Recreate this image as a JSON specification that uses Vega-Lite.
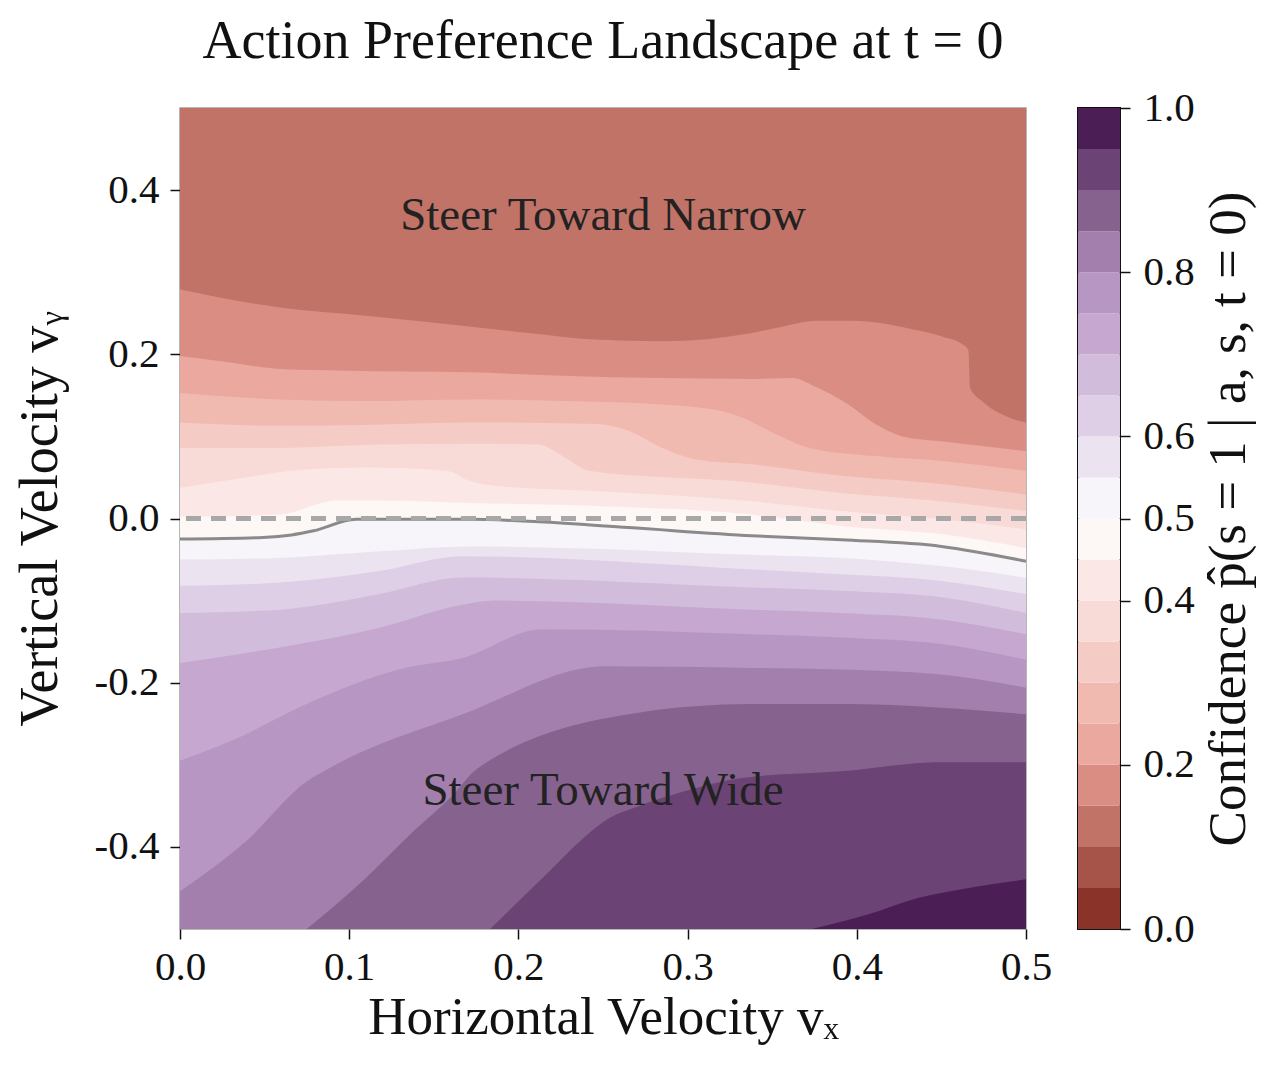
{
  "$schema": "https://vega.github.io/schema/vega-lite/v6.json",
  "background": "white",
  "padding": {"left": 12, "top": 14, "right": 10, "bottom": 10},
  "bounds": "flush",
  "spacing": 52,
  "config": {
    "font": "Liberation Serif",
    "view": {"stroke": "#a0a0a0", "strokeWidth": 1.5},
    "axis": {"labelFont": "Liberation Serif", "titleFont": "Liberation Serif", "labelFontSize": 41, "titleFontSize": 53, "labelColor": "#111", "titleColor": "#111", "tickColor": "#111", "tickSize": 10, "tickWidth": 1.5, "domain": false, "grid": false, "titleFontWeight": "normal", "labelFlush": false, "labelOverlap": false}
  },
  "resolve": {"scale": {"color": "independent"}},
  "hconcat": [
    {
      "width": 846,
      "height": 821,
      "title": {"text": "Action Preference Landscape at t = 0", "fontSize": 54, "font": "Liberation Serif", "fontWeight": "normal", "color": "#111", "anchor": "middle", "offset": -4, "baseline": "alphabetic"},
      "data": {"values": [
        {"level":0.1,"x":0,"y":0.5},{"level":0.1,"x":0.5,"y":0.5},
        {"level":0.15,"x":0,"y":0.279},{"level":0.15,"x":0.059,"y":0.257},{"level":0.15,"x":0.11,"y":0.247},{"level":0.15,"x":0.171,"y":0.234},{"level":0.15,"x":0.206,"y":0.226},{"level":0.15,"x":0.245,"y":0.218},{"level":0.15,"x":0.285,"y":0.216},{"level":0.15,"x":0.338,"y":0.226},{"level":0.15,"x":0.352,"y":0.232},{"level":0.15,"x":0.377,"y":0.241},{"level":0.15,"x":0.397,"y":0.241},{"level":0.15,"x":0.4385,"y":0.228},{"level":0.15,"x":0.45,"y":0.222},{"level":0.15,"x":0.464,"y":0.21},{"level":0.15,"x":0.466,"y":0.204},{"level":0.15,"x":0.467,"y":0.159},{"level":0.15,"x":0.474,"y":0.143},{"level":0.15,"x":0.49,"y":0.123},{"level":0.15,"x":0.5,"y":0.117},
        {"level":0.2,"x":0,"y":0.198},{"level":0.2,"x":0.03,"y":0.19},{"level":0.2,"x":0.059,"y":0.182},{"level":0.2,"x":0.0985,"y":0.18},{"level":0.2,"x":0.171,"y":0.178},{"level":0.2,"x":0.226,"y":0.174},{"level":0.2,"x":0.285,"y":0.171},{"level":0.2,"x":0.338,"y":0.17},{"level":0.2,"x":0.362,"y":0.171},{"level":0.2,"x":0.375,"y":0.161},{"level":0.2,"x":0.395,"y":0.139},{"level":0.2,"x":0.411,"y":0.115},{"level":0.2,"x":0.427,"y":0.1},{"level":0.2,"x":0.45,"y":0.094},{"level":0.2,"x":0.5,"y":0.082},
        {"level":0.25,"x":0,"y":0.153},{"level":0.25,"x":0.059,"y":0.145},{"level":0.25,"x":0.11,"y":0.143},{"level":0.25,"x":0.171,"y":0.145},{"level":0.25,"x":0.226,"y":0.143},{"level":0.25,"x":0.285,"y":0.139},{"level":0.25,"x":0.32,"y":0.131},{"level":0.25,"x":0.332,"y":0.123},{"level":0.25,"x":0.352,"y":0.103},{"level":0.25,"x":0.372,"y":0.086},{"level":0.25,"x":0.411,"y":0.076},{"level":0.25,"x":0.45,"y":0.07},{"level":0.25,"x":0.5,"y":0.058},
        {"level":0.3,"x":0,"y":0.117},{"level":0.3,"x":0.059,"y":0.113},{"level":0.3,"x":0.11,"y":0.114},{"level":0.3,"x":0.171,"y":0.117},{"level":0.3,"x":0.245,"y":0.115},{"level":0.3,"x":0.265,"y":0.107},{"level":0.3,"x":0.285,"y":0.086},{"level":0.3,"x":0.305,"y":0.072},{"level":0.3,"x":0.338,"y":0.066},{"level":0.3,"x":0.391,"y":0.052},{"level":0.3,"x":0.45,"y":0.042},{"level":0.3,"x":0.5,"y":0.029},
        {"level":0.35,"x":0,"y":0.086},{"level":0.35,"x":0.059,"y":0.086},{"level":0.35,"x":0.118,"y":0.09},{"level":0.35,"x":0.171,"y":0.091},{"level":0.35,"x":0.212,"y":0.09},{"level":0.35,"x":0.226,"y":0.076},{"level":0.35,"x":0.242,"y":0.058},{"level":0.35,"x":0.338,"y":0.044},{"level":0.35,"x":0.391,"y":0.031},{"level":0.35,"x":0.45,"y":0.021},{"level":0.35,"x":0.5,"y":0.009},
        {"level":0.4,"x":0,"y":0.0375},{"level":0.4,"x":0.039,"y":0.05},{"level":0.4,"x":0.065,"y":0.058},{"level":0.4,"x":0.11,"y":0.062},{"level":0.4,"x":0.158,"y":0.058},{"level":0.4,"x":0.171,"y":0.046},{"level":0.4,"x":0.186,"y":0.04},{"level":0.4,"x":0.245,"y":0.0335},{"level":0.4,"x":0.338,"y":0.021},{"level":0.4,"x":0.391,"y":0.009},{"level":0.4,"x":0.45,"y":-0.001},{"level":0.4,"x":0.5,"y":-0.013},
        {"level":0.45,"x":0,"y":0.002},{"level":0.45,"x":0.059,"y":0.005},{"level":0.45,"x":0.0926,"y":0.022},{"level":0.45,"x":0.118,"y":0.022},{"level":0.45,"x":0.171,"y":0.019},{"level":0.45,"x":0.249,"y":0.015},{"level":0.45,"x":0.338,"y":0.005},{"level":0.45,"x":0.391,"y":-0.009},{"level":0.45,"x":0.45,"y":-0.019},{"level":0.45,"x":0.5,"y":-0.036},
        {"level":0.5,"x":0,"y":-0.025},{"level":0.5,"x":0.049,"y":-0.023},{"level":0.5,"x":0.066,"y":-0.02},{"level":0.5,"x":0.079,"y":-0.015},{"level":0.5,"x":0.104,"y":-0.001},{"level":0.5,"x":0.171,"y":-0.001},{"level":0.5,"x":0.212,"y":-0.004},{"level":0.5,"x":0.265,"y":-0.011},{"level":0.5,"x":0.338,"y":-0.021},{"level":0.5,"x":0.391,"y":-0.026},{"level":0.5,"x":0.45,"y":-0.034},{"level":0.5,"x":0.5,"y":-0.052},
        {"level":0.55,"x":0,"y":-0.05},{"level":0.55,"x":0.059,"y":-0.048},{"level":0.55,"x":0.118,"y":-0.04},{"level":0.55,"x":0.171,"y":-0.034},{"level":0.55,"x":0.249,"y":-0.037},{"level":0.55,"x":0.332,"y":-0.044},{"level":0.55,"x":0.391,"y":-0.048},{"level":0.55,"x":0.45,"y":-0.058},{"level":0.55,"x":0.5,"y":-0.072},
        {"level":0.6,"x":0,"y":-0.082},{"level":0.6,"x":0.059,"y":-0.078},{"level":0.6,"x":0.118,"y":-0.064},{"level":0.6,"x":0.167,"y":-0.046},{"level":0.6,"x":0.338,"y":-0.062},{"level":0.6,"x":0.391,"y":-0.068},{"level":0.6,"x":0.45,"y":-0.076},{"level":0.6,"x":0.5,"y":-0.092},
        {"level":0.65,"x":0,"y":-0.115},{"level":0.65,"x":0.059,"y":-0.111},{"level":0.65,"x":0.118,"y":-0.092},{"level":0.65,"x":0.167,"y":-0.072},{"level":0.65,"x":0.338,"y":-0.084},{"level":0.65,"x":0.391,"y":-0.088},{"level":0.65,"x":0.45,"y":-0.096},{"level":0.65,"x":0.5,"y":-0.115},
        {"level":0.7,"x":0,"y":-0.176},{"level":0.7,"x":0.059,"y":-0.157},{"level":0.7,"x":0.118,"y":-0.133},{"level":0.7,"x":0.167,"y":-0.105},{"level":0.7,"x":0.186,"y":-0.1},{"level":0.7,"x":0.338,"y":-0.111},{"level":0.7,"x":0.391,"y":-0.115},{"level":0.7,"x":0.45,"y":-0.123},{"level":0.7,"x":0.5,"y":-0.141},
        {"level":0.75,"x":0,"y":-0.295},{"level":0.75,"x":0.03,"y":-0.271},{"level":0.75,"x":0.079,"y":-0.222},{"level":0.75,"x":0.131,"y":-0.183},{"level":0.75,"x":0.167,"y":-0.17},{"level":0.75,"x":0.214,"y":-0.135},{"level":0.75,"x":0.338,"y":-0.141},{"level":0.75,"x":0.391,"y":-0.145},{"level":0.75,"x":0.45,"y":-0.153},{"level":0.75,"x":0.5,"y":-0.172},
        {"level":0.8,"x":0,"y":-0.454},{"level":0.8,"x":0.039,"y":-0.393},{"level":0.8,"x":0.075,"y":-0.32},{"level":0.8,"x":0.0887,"y":-0.3035},{"level":0.8,"x":0.167,"y":-0.2385},{"level":0.8,"x":0.251,"y":-0.18},{"level":0.8,"x":0.338,"y":-0.182},{"level":0.8,"x":0.391,"y":-0.184},{"level":0.8,"x":0.45,"y":-0.19},{"level":0.8,"x":0.5,"y":-0.206},
        {"level":0.85,"x":0.0749,"y":-0.5},{"level":0.85,"x":0.108,"y":-0.4415},{"level":0.85,"x":0.138,"y":-0.381},{"level":0.85,"x":0.1608,"y":-0.338},{"level":0.85,"x":0.1755,"y":-0.305},{"level":0.85,"x":0.271,"y":-0.2365},{"level":0.85,"x":0.338,"y":-0.226},{"level":0.85,"x":0.391,"y":-0.226},{"level":0.85,"x":0.45,"y":-0.2305},{"level":0.85,"x":0.5,"y":-0.2385},
        {"level":0.9,"x":0.1832,"y":-0.5},{"level":0.9,"x":0.2167,"y":-0.433},{"level":0.9,"x":0.2364,"y":-0.393},{"level":0.9,"x":0.2541,"y":-0.3645},{"level":0.9,"x":0.269,"y":-0.352},{"level":0.9,"x":0.2986,"y":-0.332},{"level":0.9,"x":0.332,"y":-0.316},{"level":0.9,"x":0.391,"y":-0.308},{"level":0.9,"x":0.45,"y":-0.297},{"level":0.9,"x":0.5,"y":-0.297},
        {"level":0.95,"x":0.3735,"y":-0.5},{"level":0.95,"x":0.407,"y":-0.482},{"level":0.95,"x":0.4366,"y":-0.462},{"level":0.95,"x":0.466,"y":-0.45},{"level":0.95,"x":0.5,"y":-0.4395}
      ]},
      "layer": [
        {
          "mark": {"type": "area", "interpolate": "monotone"},
          "encoding": {
            "x": {"field": "x", "type": "quantitative", "scale": {"domain": [0, 0.5], "nice": false, "zero": false},
                  "axis": {"values": [0, 0.1, 0.2, 0.3, 0.4, 0.5], "format": ".1f", "title": "Horizontal Velocity vₓ", "labelPadding": 8, "titlePadding": 4}},
            "y": {"field": "y", "type": "quantitative", "stack": null, "scale": {"domain": [-0.5, 0.5], "nice": false, "zero": false},
                  "axis": {"values": [-0.4, -0.2, 0, 0.2, 0.4], "labelExpr": "datum.value < 0 ? '-' + format(-datum.value, '.1f') : format(datum.value, '.1f')", "title": "Vertical Velocity vᵧ", "titleFontSize": 54, "labelPadding": 11, "titlePadding": 27}},
            "y2": {"datum": -0.5},
            "detail": {"field": "level"},
            "color": {"field": "level", "type": "quantitative",
                      "scale": {"type": "threshold", "domain": [0.05,0.1,0.15,0.2,0.25,0.3,0.35,0.4,0.45,0.5,0.55,0.6,0.65,0.7,0.75,0.8,0.85,0.9,0.95],
                                "range": ["#8a3329","#a6534a","#c27368","#da8d83","#eba89e","#f1bab1","#f5cbc5","#f8dad6","#fbe8e6","#fdf7f6","#f7f5f9","#ebe4f0","#dfcfe6","#d2bcdb","#c5a7cf","#b896c3","#a37fad","#86628f","#6b4374","#4b1f55"]},
                      "legend": null}
          }
        },
        {
          "transform": [{"filter": "datum.level == 0.5"}],
          "mark": {"type": "line", "color": "#8a8a8a", "strokeWidth": 3, "interpolate": "monotone"},
          "encoding": {
            "x": {"field": "x", "type": "quantitative"},
            "y": {"field": "y", "type": "quantitative"}
          }
        },
        {
          "mark": {"type": "rule", "color": "#a8a8a8", "strokeWidth": 3.5, "strokeDash": [15, 10], "opacity": 0.85},
          "encoding": {"y": {"datum": 0}}
        },
        {
          "data": {"values": [
            {"label": "Steer Toward Narrow", "x": 0.25, "y": 0.368},
            {"label": "Steer Toward Wide", "x": 0.25, "y": -0.332}
          ]},
          "mark": {"type": "text", "font": "Liberation Serif", "fontSize": 47, "color": "#222222", "baseline": "middle", "align": "center"},
          "encoding": {
            "x": {"field": "x", "type": "quantitative"},
            "y": {"field": "y", "type": "quantitative"},
            "text": {"field": "label"}
          }
        }
      ]
    },
    {
      "width": 42,
      "height": 821,
      "view": {"stroke": "#111", "strokeWidth": 2},
      "data": {"values": [
        {"lo":0,"hi":0.05},{"lo":0.05,"hi":0.1},{"lo":0.1,"hi":0.15},{"lo":0.15,"hi":0.2},{"lo":0.2,"hi":0.25},
        {"lo":0.25,"hi":0.3},{"lo":0.3,"hi":0.35},{"lo":0.35,"hi":0.4},{"lo":0.4,"hi":0.45},{"lo":0.45,"hi":0.5},
        {"lo":0.5,"hi":0.55},{"lo":0.55,"hi":0.6},{"lo":0.6,"hi":0.65},{"lo":0.65,"hi":0.7},{"lo":0.7,"hi":0.75},
        {"lo":0.75,"hi":0.8},{"lo":0.8,"hi":0.85},{"lo":0.85,"hi":0.9},{"lo":0.9,"hi":0.95},{"lo":0.95,"hi":1.0}
      ]},
      "mark": {"type": "rect"},
      "encoding": {
        "y": {"field": "lo", "type": "quantitative", "scale": {"domain": [0, 1], "nice": false, "zero": false},
              "axis": {"orient": "right", "values": [0, 0.2, 0.4, 0.5, 0.6, 0.8, 1], "format": ".1f", "labelPadding": 13,
                       "title": "Confidence p̂(s = 1 | a, s, t = 0)", "titleAngle": 270, "titleBaseline": "top", "titlePadding": 8}},
        "y2": {"field": "hi"},
        "color": {"field": "lo", "type": "quantitative",
                  "scale": {"type": "threshold", "domain": [0.05,0.1,0.15,0.2,0.25,0.3,0.35,0.4,0.45,0.5,0.55,0.6,0.65,0.7,0.75,0.8,0.85,0.9,0.95],
                            "range": ["#8a3329","#a6534a","#c27368","#da8d83","#eba89e","#f1bab1","#f5cbc5","#f8dad6","#fbe8e6","#fdf7f6","#f7f5f9","#ebe4f0","#dfcfe6","#d2bcdb","#c5a7cf","#b896c3","#a37fad","#86628f","#6b4374","#4b1f55"]},
                  "legend": null}
      }
    }
  ]
}
